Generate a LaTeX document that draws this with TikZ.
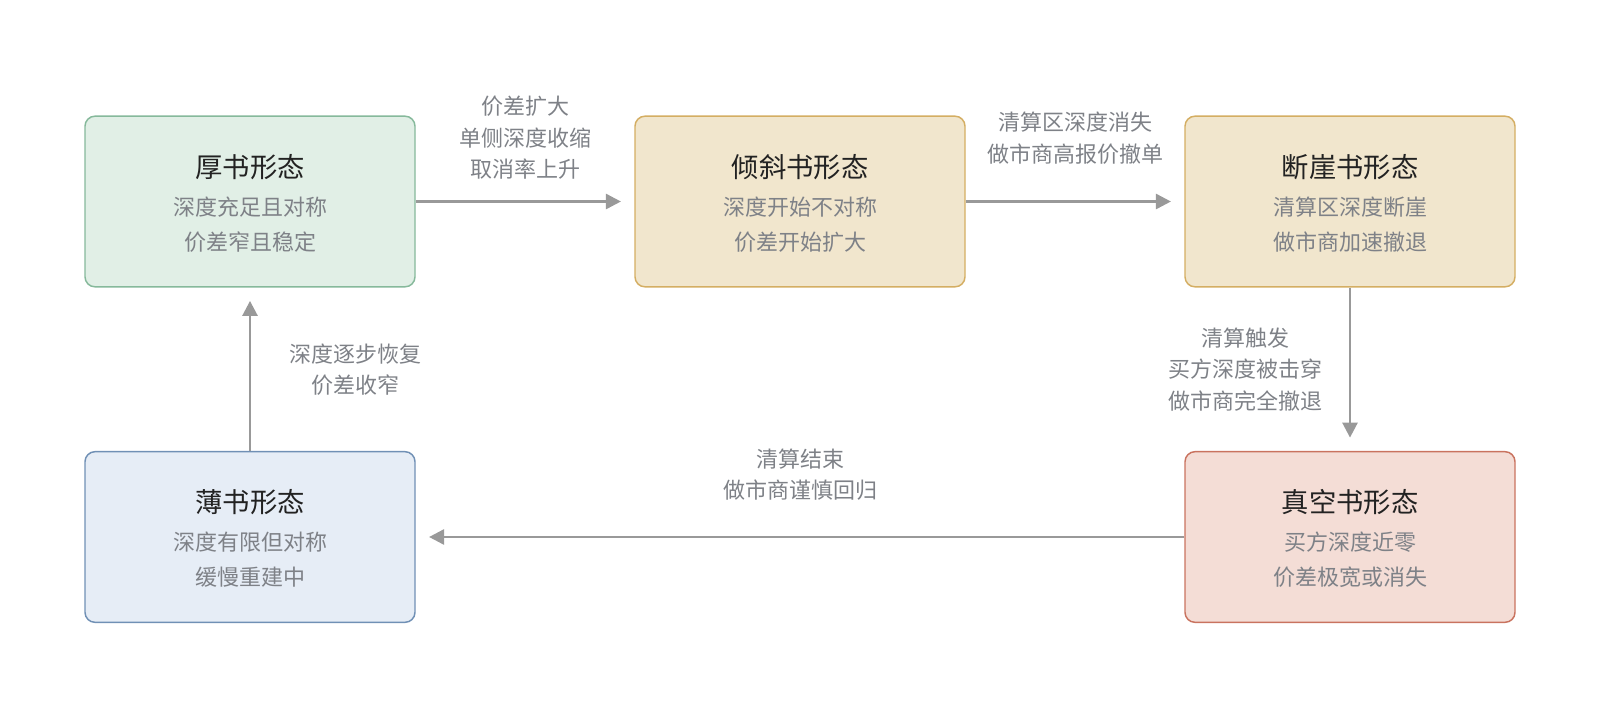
\documentclass[tikz,border=0pt]{standalone}
\usepackage{fontspec}
\setmainfont{Noto Sans CJK SC}
\usetikzlibrary{arrows.meta}
\usepackage{xcolor}
\definecolor{thickfill}{HTML}{E1EFE6}
\definecolor{thickline}{HTML}{86B99B}
\definecolor{tiltfill}{HTML}{F1E6CD}
\definecolor{tiltline}{HTML}{D4AE63}
\definecolor{thinfill}{HTML}{E6EDF6}
\definecolor{thinline}{HTML}{7090B5}
\definecolor{vacfill}{HTML}{F4DDD6}
\definecolor{vacline}{HTML}{C9735F}
\definecolor{titlegray}{HTML}{222222}
\definecolor{textgray}{HTML}{7E8187}
\definecolor{flowgray}{HTML}{999999}

\begin{document}
\begin{tikzpicture}[x=0.75pt, y=-0.75pt,
          box/.style={rectangle, rounded corners=7.5pt, line width=1.1pt,
            minimum width=247.5pt, minimum height=128pt, inner sep=0pt},
          titletext/.style={text=titlegray, font=\fontsize{20.5}{24}\selectfont},
          bodytext/.style={text=textgray, align=center,
            font=\fontsize{16.5}{26.25}\selectfont},
          edgelabel/.style={text=textgray, align=center,
            font=\fontsize{16.5}{23.6}\selectfont},
          flow/.style={draw=flowgray, line width=2pt,
            -{Triangle[length=11.25pt, width=11.25pt]}, shorten >=10pt}]
          \useasboundingbox (0,0) rectangle (1600,708);
          \node[box, fill=thickfill, draw=thickline] (thick) at (250,201.5) {};
          \node[box, fill=tiltfill, draw=tiltline] (tilt) at (800,201.5) {};
          \node[box, fill=tiltfill, draw=tiltline] (cliff) at (1350,201.5) {};
          \node[box, fill=thinfill, draw=thinline] (thin) at (250,537) {};
          \node[box, fill=vacfill, draw=vacline] (vacuum) at (1350,537) {};
          \node[titletext] (thickT) at (250,167) {厚书形态};
          \node[titletext] (tiltT) at (800,167) {倾斜书形态};
          \node[titletext] (cliffT) at (1350,167) {断崖书形态};
          \node[titletext] (thinT) at (250,502.5) {薄书形态};
          \node[titletext] (vacuumT) at (1350,502.5) {真空书形态};
          \node[bodytext] (thickB) at (250,224.5) {深度充足且对称\\价差窄且稳定};
          \node[bodytext] (tiltB) at (800,224.5) {深度开始不对称\\价差开始扩大};
          \node[bodytext] (cliffB) at (1350,224.5) {清算区深度断崖\\做市商加速撤退};
          \node[bodytext] (thinB) at (250,560) {深度有限但对称\\缓慢重建中};
          \node[bodytext] (vacuumB) at (1350,560) {买方深度近零\\价差极宽或消失};
          \draw[flow] (thick) -- (tilt);
          \draw[flow] (tilt) -- (cliff);
          \draw[flow] (cliff) -- (vacuum);
          \draw[flow] (vacuum) -- (thin);
          \draw[flow] (thin) -- (thick);
          \node[edgelabel] (widen) at (525,138) {价差扩大\\单侧深度收缩\\取消率上升};
          \node[edgelabel] (vanish) at (1075,138) {清算区深度消失\\做市商高报价撤单};
          \node[edgelabel] (trigger) at (1245,369.5) {清算触发\\买方深度被击穿\\做市商完全撤退};
          \node[edgelabel] (settle) at (800,474.5) {清算结束\\做市商谨慎回归};
          \node[edgelabel] (recover) at (355,369.5) {深度逐步恢复\\价差收窄};
\end{tikzpicture}
\end{document}
